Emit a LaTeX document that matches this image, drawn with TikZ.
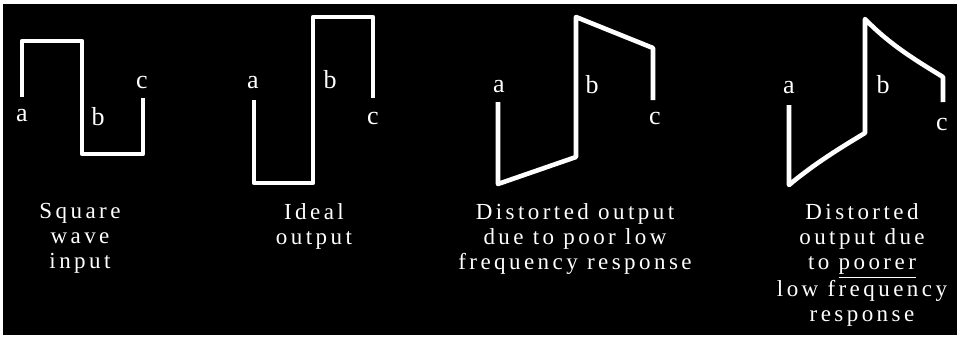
\documentclass[tikz,border=0pt]{standalone}
\usepackage{fontspec}
\setmainfont{Liberation Serif}[LetterSpace=15]
\usetikzlibrary{calc}

\begin{document}
\begin{tikzpicture}[x=0.5pt, y=-0.5pt,
        wave/.style={draw=white, line width=2.3pt, line join=round},
        lbl/.style={text=white, inner sep=0pt, font=\fontsize{13}{15}\selectfont},
        caption/.style={text=white, inner sep=0pt, align=center, anchor=north,
            font=\fontsize{11.5}{12.5}\selectfont}
    ]
    \useasboundingbox (0,0) rectangle (960,339);
    \fill[white] (0,0) rectangle (960,339);
    \fill[black] (3,4) rectangle (957,335);

    % ---- (1) Square wave input ----
    \coordinate (p1a) at (22,97);   \coordinate (p1b) at (22,41);
    \coordinate (p1c) at (82,41);   \coordinate (p1d) at (82,154);
    \coordinate (p1e) at (143,154); \coordinate (p1f) at (143,98);
    \draw[wave] (p1a)--(p1b)--(p1c)--(p1d)--(p1e)--(p1f);
    \node[lbl] (a1) at (22,116) {a};
    \node[lbl] (b1) at (98,117) {b};
    \node[lbl] (c1) at (142,82) {c};
    \node[caption] (cap1) at (80,203) {Square\\wave\\input};

    % ---- (2) Ideal output ----
    \coordinate (p2a) at (254,100); \coordinate (p2b) at (254,183);
    \coordinate (p2c) at (313,183); \coordinate (p2d) at (313,17);
    \coordinate (p2e) at (373,17);  \coordinate (p2f) at (373,98);
    \draw[wave] (p2a)--(p2b)--(p2c)--(p2d)--(p2e)--(p2f);
    \node[lbl] (a2) at (253,83) {a};
    \node[lbl] (b2) at (330,80) {b};
    \node[lbl] (c2) at (373,118) {c};
    \node[caption] (cap2) at (314,203) {Ideal\\output};

    % ---- (3) poor low frequency response ----
    \coordinate (p3a) at (498,102); \coordinate (p3b) at (498,184);
    \coordinate (p3c) at (576,157); \coordinate (p3d) at (576,17);
    \coordinate (p3e) at (653,48);  \coordinate (p3f) at (653,100);
    \draw[wave] (p3a)--(p3b)--(p3c)--(p3d)--(p3e)--(p3f);
    \node[lbl] (a3) at (499,87) {a};
    \node[lbl] (b3) at (592,85) {b};
    \node[lbl] (c3) at (655,118) {c};
    \node[caption] (cap3) at (575,203) {Distorted output\\due to poor low\\frequency response};

    % ---- (4) poorer low frequency response ----
    \coordinate (p4a) at (789,105); \coordinate (p4b) at (789,185);
    \coordinate (p4c) at (865,133); \coordinate (p4d) at (865,19);
    \coordinate (p4e) at (943,77);  \coordinate (p4f) at (943,102);
    \draw[wave] (p4a)--(p4b) .. controls (814,164) and (840,148) .. (p4c)
        --(p4d) .. controls (890,45) and (917,61) .. (p4e)--(p4f);
    \node[lbl] (a4) at (789,88) {a};
    \node[lbl] (b4) at (883,85) {b};
    \node[lbl] (c4) at (942,124) {c};
    \node[caption] (cap4) at (862,203) {Distorted\\output due\\to \underline{poorer}\\low frequency\\response};

\end{tikzpicture}
\end{document}
